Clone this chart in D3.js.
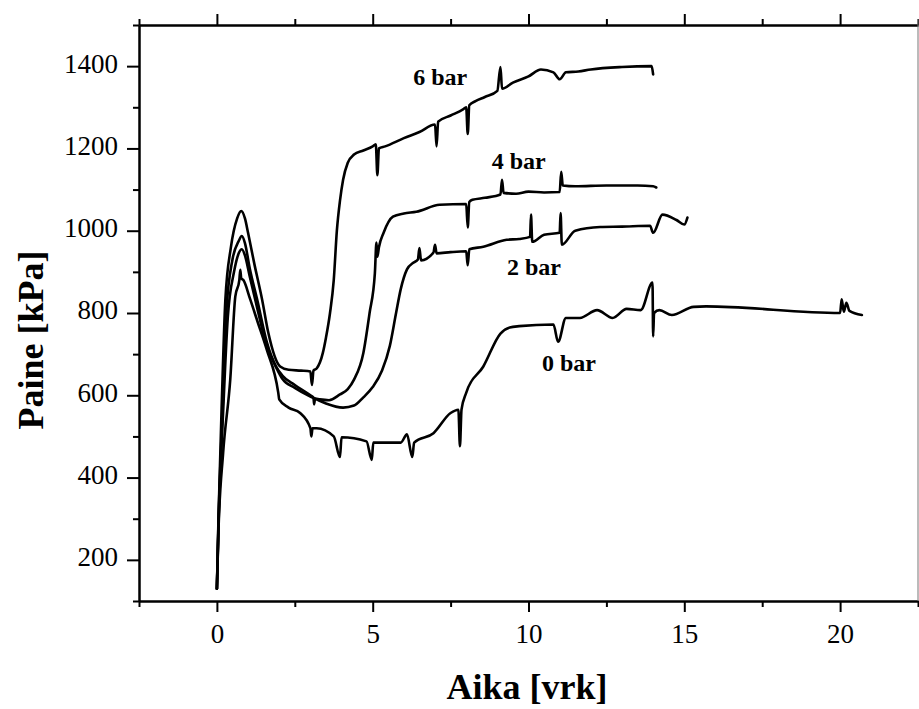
<!DOCTYPE html>
<html>
<head>
<meta charset="utf-8">
<script src="https://cdn.jsdelivr.net/npm/d3@7"></script>
<style>
  body { margin: 0; background: #fff; }
  svg { display: block; }
  .lbl { font-family: "Liberation Serif", "Times New Roman", serif; }
</style>
</head>
<body>
<script>
// Paine [kPa] vs Aika [vrk] at different pressures
var W = 919, H = 709

// 6 bar
var t6 = [0, 0.05, 0.16, 0.27, 0.45, 0.65, 0.78, 0.9, 1.0, 1.2, 1.45, 1.65, 2.03, 2.3, 2.7, 3.0, 3.05, 3.1, 3.2, 3.4, 3.5, 3.63, 3.75, 3.85, 3.95, 4.05, 4.2, 4.4, 4.7, 5.0, 5.1, 5.15, 5.2, 5.4, 6.0, 6.5, 7.0, 7.05, 7.1, 7.5, 7.9, 8.0, 8.05, 8.1, 8.3, 8.6, 9.0, 9.1, 9.15, 9.5, 10.0, 10.4, 10.8, 11.0, 11.2, 11.6, 12.0, 13.0, 13.95, 14.0]
var p6 = [130, 300, 590, 830, 960, 1030, 1048, 1030, 995, 920, 833, 752, 670, 662, 660, 658, 625, 660, 665, 703, 740, 800, 880, 1000, 1073, 1124, 1165, 1185, 1195, 1205, 1210, 1135, 1200, 1205, 1225, 1240, 1258, 1205, 1265, 1280, 1295, 1300, 1235, 1305, 1315, 1325, 1340, 1398, 1345, 1360, 1375, 1392, 1385, 1368, 1385, 1387, 1392, 1398, 1400, 1380]

// 4 bar
var t4 = [0, 0.05, 0.18, 0.3, 0.5, 0.7, 0.8, 0.9, 1.05, 1.3, 1.6, 1.9, 2.1, 2.5, 3.0, 3.1, 3.12, 3.15, 3.3, 3.6, 3.95, 4.2, 4.4, 4.7, 4.9, 5.07, 5.12, 5.15, 5.2, 5.35, 5.65, 6.0, 6.4, 7.15, 8.0, 8.05, 8.1, 8.2, 8.6, 9.1, 9.15, 9.2, 9.6, 10.0, 10.5, 11.0, 11.05, 11.1, 11.5, 12.5, 13.5, 14.0, 14.1]
var p4 = [130, 290, 560, 800, 930, 975, 987, 970, 910, 830, 730, 670, 648, 625, 600, 594, 578, 592, 590, 588, 602, 615, 638, 703, 800, 897, 971, 937, 960, 995, 1034, 1042, 1046, 1063, 1065, 1008, 1070, 1075, 1080, 1088, 1124, 1092, 1090, 1095, 1093, 1094, 1143, 1110, 1108, 1110, 1110, 1108, 1105]

// 2 bar
var t2 = [0, 0.05, 0.2, 0.35, 0.55, 0.7, 0.8, 0.9, 1.05, 1.3, 1.6, 1.9, 2.1, 2.5, 3.0, 3.2, 3.5, 4.05, 4.4, 4.7, 5.0, 5.3, 5.55, 5.75, 5.9, 6.1, 6.3, 6.45, 6.5, 6.55, 6.95, 7.0, 7.05, 7.5, 8.0, 8.05, 8.1, 8.55, 9.3, 9.7, 10.05, 10.08, 10.12, 10.5, 11.0, 11.03, 11.07, 11.5, 12.3, 13.0, 13.9, 14.0, 14.3, 14.75, 15.0, 15.1]
var p2 = [130, 280, 560, 790, 900, 945, 955, 940, 890, 810, 720, 668, 640, 618, 597, 590, 580, 570, 575, 595, 620, 660, 720, 800, 858, 906, 922, 930, 958, 928, 947, 966, 945, 948, 950, 916, 955, 961, 978, 980, 985, 1039, 973, 990, 995, 1043, 966, 1000, 1009, 1010, 1012, 995, 1039, 1026, 1015, 1032]

// 0 bar
var t0 = [0, 0.05, 0.2, 0.43, 0.59, 0.72, 0.75, 0.78, 0.85, 1.07, 1.3, 1.6, 1.97, 2.0, 2.3, 2.67, 3.0, 3.03, 3.07, 3.2, 3.75, 3.95, 4.0, 4.8, 4.97, 5.02, 5.5, 5.9, 6.1, 6.27, 6.33, 6.95, 7.5, 7.75, 7.8, 7.85, 8.0, 8.55, 9.1, 9.4, 9.7, 10.8, 10.95, 11.2, 11.65, 12.2, 12.7, 13.15, 13.6, 13.98, 14.0, 14.03, 14.2, 14.6, 15.3, 15.7, 20.0, 20.05, 20.12, 20.2, 20.3, 20.7]
var p0 = [130, 270, 460, 640, 840, 880, 905, 885, 880, 833, 780, 711, 606, 590, 570, 557, 520, 500, 520, 520, 500, 450, 498, 488, 443, 485, 485, 485, 505, 450, 485, 508, 557, 565, 476, 565, 606, 670, 750, 765, 768, 772, 730, 788, 788, 807, 788, 810, 807, 874, 743, 800, 807, 795, 815, 816, 800, 833, 803, 825, 805, 795]

var seriesNames = ["6 bar", "4 bar", "2 bar", "0 bar"]
var seriesT = [t6, t4, t2, t0]
var seriesP = [p6, p4, p2, p0]
// label anchor (start of text, baseline) in data units
var labelT = [6.3, 8.82, 9.31, 10.43]
var labelP = [1355, 1151, 893, 660]

var xMajor = [0, 5, 10, 15, 20]
var xMinor = [-2.5, 2.5, 7.5, 12.5, 17.5, 22.5]
var yMajor = [200, 400, 600, 800, 1000, 1200, 1400]
var yMinor = [100, 300, 500, 700, 900, 1100, 1300, 1500]

;(function(){
    var mLeft = 139, mRight = 918, mTop = 25, mBottom = 601

    var svg = d3.select("body").append("svg").attr("width", W).attr("height", H)

    var x = d3.scaleLinear().domain([-2.5, 22.5]).range([mLeft, mRight])
    var y = d3.scaleLinear().domain([100, 1500]).range([mBottom, mTop])

    function styleAxis(g) {
        g.attr("font-size", null).attr("font-family", null)
        g.select(".domain").attr("stroke", "#000").attr("stroke-width", 2)
        g.selectAll(".tick line").attr("stroke", "#000").attr("stroke-width", 2)
        g.selectAll(".tick text").attr("class", "lbl").attr("font-size", 27).attr("fill", "#000")
    }

    // bottom axis
    var gx = svg.append("g").attr("transform", "translate(0," + mBottom + ")")
        .call(d3.axisBottom(x).tickValues(xMajor).tickSize(11).tickSizeOuter(0).tickPadding(12).tickFormat(d3.format("d")))
    styleAxis(gx)
    var gx2 = svg.append("g").attr("transform", "translate(0," + mBottom + ")")
        .call(d3.axisBottom(x).tickValues(xMinor).tickSize(6).tickSizeOuter(0).tickFormat(""))
    styleAxis(gx2)

    // top axis (ticks only)
    var gt = svg.append("g").attr("transform", "translate(0," + mTop + ")")
        .call(d3.axisTop(x).tickValues(xMajor).tickSize(11).tickSizeOuter(0).tickFormat(""))
    styleAxis(gt)
    var gt2 = svg.append("g").attr("transform", "translate(0," + mTop + ")")
        .call(d3.axisTop(x).tickValues(xMinor).tickSize(6).tickSizeOuter(0).tickFormat(""))
    styleAxis(gt2)

    // left axis
    var gy = svg.append("g").attr("transform", "translate(" + mLeft + ",0)")
        .call(d3.axisLeft(y).tickValues(yMajor).tickSize(12).tickSizeOuter(0).tickPadding(9).tickFormat(d3.format("d")))
    styleAxis(gy)
    gy.selectAll(".tick text").attr("dy", "0.22em")
    var gy2 = svg.append("g").attr("transform", "translate(" + mLeft + ",0)")
        .call(d3.axisLeft(y).tickValues(yMinor).tickSize(6).tickSizeOuter(0).tickFormat(""))
    styleAxis(gy2)

    // right border
    svg.append("line").attr("x1", mRight).attr("x2", mRight).attr("y1", mTop - 6).attr("y2", mBottom)
        .attr("stroke", "#777").attr("stroke-width", 1)

    // curves
    var line = d3.line().curve(d3.curveMonotoneX)
        .x(function(d){return x(d[0])}).y(function(d){return y(d[1])})
    for (var s = 0; s < seriesNames.length; s++) {
        var pts = seriesT[s].map(function(t, i){ return [t, seriesP[s][i]] })
        svg.append("path").datum(pts).attr("d", line)
            .attr("fill", "none").attr("stroke", "#000").attr("stroke-width", 2.6)
            .attr("stroke-linejoin", "round").attr("stroke-linecap", "round")
        svg.append("text").attr("class", "lbl").attr("x", x(labelT[s])).attr("y", y(labelP[s]))
            .attr("font-size", 24).attr("font-weight", "bold").text(seriesNames[s])
    }

    // axis titles
    svg.append("text").attr("class", "lbl").attr("x", 527).attr("y", 699)
        .attr("text-anchor", "middle").attr("font-size", 36).attr("font-weight", "bold").text("Aika [vrk]")
    svg.append("text").attr("class", "lbl").attr("transform", "translate(43,340) rotate(-90)")
        .attr("text-anchor", "middle").attr("font-size", 36).attr("font-weight", "bold").text("Paine [kPa]")
})()
</script>
</body>
</html>
